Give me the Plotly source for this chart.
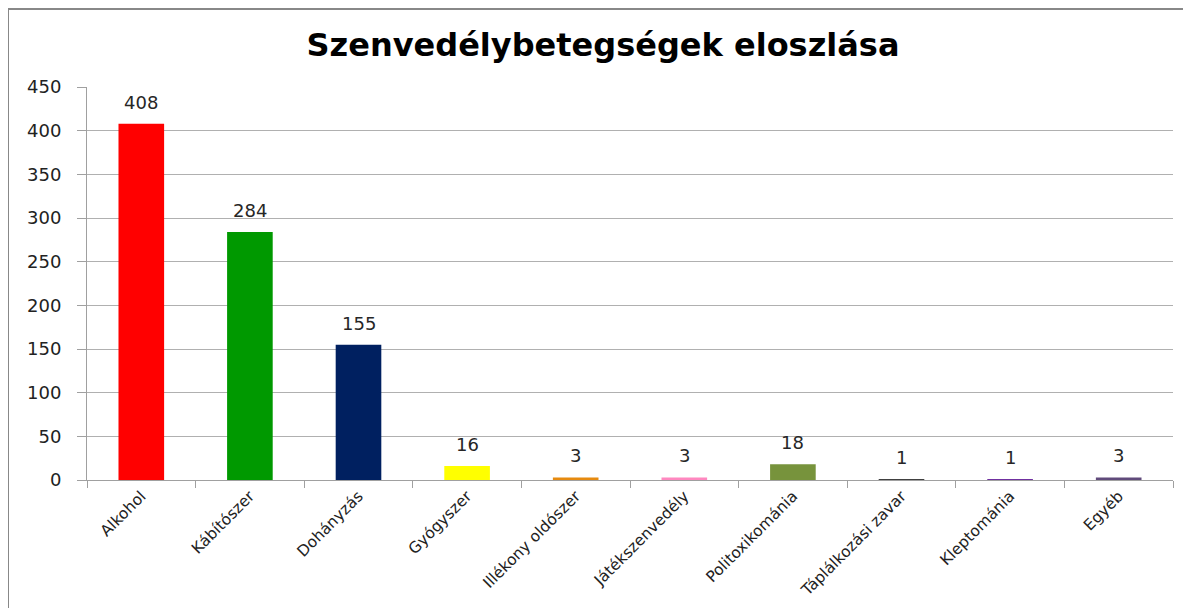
import plotly.graph_objects as go

categories = ["Alkohol", "Kábítószer", "Dohányzás", "Gyógyszer", "Illékony oldószer",
              "Játékszenvedély", "Politoxikománia", "Táplálkozási zavar", "Kleptománia", "Egyéb"]
values = [408, 284, 155, 16, 3, 3, 18, 1, 1, 3]
colors = ["#FF0000", "#009900", "#002060", "#FFFF00", "#E68A0F",
          "#FF88C0", "#77933C", "#404040", "#7030A0", "#604A7B"]
y_ticks = [0, 50, 100, 150, 200, 250, 300, 350, 400, 450]

# page has an 8px body margin; figure sized so that plot lands where reference has it
OFF = 8
W, H = 1191 - OFF, 608 - OFF
L, R, T, B = 87 - OFF, 18, 87 - OFF, 128
FONT = "DejaVu Sans, Open Sans, sans-serif"

fig = go.Figure(go.Bar(
    x=categories, y=values,
    marker=dict(color=colors, line=dict(width=0)),
    cliponaxis=False, width=0.42,
))

for c, v in zip(categories, values):
    fig.add_annotation(x=c, y=v, text=str(v), showarrow=False, yanchor="bottom", yshift=9,
                       font=dict(family=FONT, size=18, color="#262626"))

pw = W - L - R
ph = H - T - B
top_y = (H - B - (9 - OFF)) / ph
fig.update_layout(
    width=W, height=H,
    margin=dict(l=L, r=R, t=T, b=B, autoexpand=False),
    paper_bgcolor="white", plot_bgcolor="white",
    showlegend=False,
    title=dict(text="<b>Szenvedélybetegségek eloszlása</b>", x=(603 - OFF) / W, xanchor="center",
               y=1 - (45 - OFF) / H, yanchor="middle",
               font=dict(family=FONT, size=32, color="black")),
    font=dict(family=FONT, size=17, color="#222222"),
    xaxis=dict(tickangle=-45, showline=True, linecolor="#A0A0A0", linewidth=1,
               ticks="outside", tickson="boundaries", ticklen=7, tickcolor="#A0A0A0",
               showgrid=False, automargin=False,
               tickfont=dict(family=FONT, size=15.5, color="#222222")),
    yaxis=dict(range=[0, 450], tickvals=y_ticks, showline=True, linecolor="#A0A0A0",
               linewidth=1, ticks="outside", ticklen=9, tickcolor="#A0A0A0",
               ticklabelstandoff=12, automargin=False,
               showgrid=True, gridcolor="#B0B0B0", gridwidth=1, zeroline=False,
               tickfont=dict(family=FONT, size=18, color="#222222")),
    shapes=[
        dict(type="line", xref="paper", yref="paper",
             x0=(8 - 87) / pw, x1=(1191 - 87) / pw, y0=top_y, y1=top_y,
             line=dict(color="#888888", width=2)),
        dict(type="line", xref="paper", yref="paper",
             x0=(8 - 87) / pw, x1=(8 - 87) / pw, y0=top_y, y1=(H - B - 610) / ph,
             line=dict(color="#888888", width=2)),
    ],
)

fig.write_html("out.html")
